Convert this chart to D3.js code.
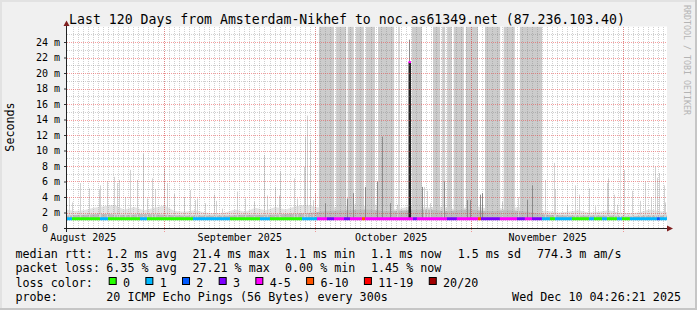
<!DOCTYPE html>
<html>
<head>
<meta charset="utf-8">
<script src="https://cdn.jsdelivr.net/npm/d3@7"></script>
<style>
  body { margin: 0; background: #f0f0f0; }
  svg text { font-family: "DejaVu Sans Mono", monospace; fill: #000; }
</style>
</head>
<body>
<div id="chart"></div>
<script>
// ---- data ----
const startTime = new Date(Date.UTC(2025, 7, 12, 4, 26, 21));
const endTime = new Date(Date.UTC(2025, 11, 10, 4, 26, 21));

const yTicks = [0, 2, 4, 6, 8, 10, 12, 14, 16, 18, 20, 22, 24];

const lossLabels = ["0", "1", "2", "3", "4-5", "6-10", "11-19", "20/20"];
const lossColors = ["#26ff00", "#00b8ff", "#0059ff", "#7e00ff", "#ff00ff", "#ff5500", "#ff0000", "#a10000"];

// median line: [from day, to day, loss bucket], days counted from startTime
const medianMs = 1.2;
const medianSegs = [
  [0.69, 1.68, 1], [1.68, 7.23, 0], [7.23, 8.81, 1], [8.81, 15.15, 0], [15.15, 16.54, 1],
  [16.54, 25.65, 0], [25.65, 32.98, 1], [32.98, 38.92, 0], [38.92, 40.9, 1], [40.9, 47.24, 0],
  [47.24, 50.21, 1], [50.21, 52.19, 4], [52.19, 53.58, 3], [53.58, 55.56, 4], [55.56, 56.75, 3],
  [56.75, 59.12, 4], [59.12, 59.72, 5], [59.72, 69.22, 4], [69.22, 70.01, 3], [70.01, 75.95, 4],
  [75.95, 77.93, 3], [77.93, 82.09, 4], [82.09, 82.69, 5], [82.69, 86.45, 3], [86.45, 89.82, 4],
  [89.82, 91.4, 3], [91.4, 92.79, 4], [92.79, 94.77, 3], [94.77, 96.36, 1], [96.36, 97.35, 0],
  [97.35, 100.71, 1], [100.71, 104.08, 0], [104.08, 105.07, 1], [105.07, 106.66, 0], [106.66, 107.65, 1],
  [107.65, 109.63, 0], [109.63, 110.62, 1], [110.62, 112.2, 0], [112.2, 117.55, 1], [117.55, 118.14, 2],
  [118.14, 119.53, 1]
];
// the one big median jump: [day, median ms, smoke top ms]
const medianPeak = [68.43, 21.4, 24.3];

// periods where the smoke fills the whole graph: [from day, to day]
const fullSmoke = [
  [50.6, 53.6], [54.0, 56.0], [56.3, 57.5], [57.9, 59.5], [59.9, 61.7], [62.3, 65.5],
  [66.3, 66.6], [69.0, 71.0], [73.2, 74.6], [75.0, 75.6], [76.0, 76.9], [77.3, 79.3],
  [79.7, 82.1], [83.5, 86.5], [87.2, 89.4], [90.4, 94.8]
];

// outer smoke every 2 days (ms)
const smokeOuter = [
  2.5, 2.2, 2.3, 2.6, 2.8, 3.0, 2.4, 2.7, 2.3, 2.6, 2.9, 2.2, 2.1, 2.3, 2.0, 1.9,
  2.0, 2.4, 2.1, 2.6, 2.3, 2.7, 2.4, 2.8, 3.0, 2.7, 2.5, 2.7, 2.9, 3.1, 2.8, 3.0,
  2.6, 2.4, 2.7, 2.9, 2.6, 2.8, 2.6, 2.4, 2.7, 2.8, 2.5, 2.6, 2.4, 2.7, 2.5, 2.3,
  2.2, 2.0, 2.1, 2.3, 2.0, 2.1, 2.3, 2.0, 1.9, 2.0, 2.4, 2.2, 2.0
];
// inner (denser) smoke every 4 days (ms)
const smokeInner = [
  1.6, 1.7, 1.8, 1.7, 1.8, 1.7, 1.6, 1.6, 1.6, 1.7, 1.7, 1.8, 1.9, 2.2, 2.3, 2.4,
  2.2, 2.3, 2.4, 2.2, 2.4, 2.2, 2.3, 2.1, 1.7, 1.6, 1.6, 1.6, 1.5, 1.6, 1.6
];

// single smoke spikes: [day, top ms]
const lightSpikes = [
  [1.03, 4.0], [1.68, 3.3], [3.27, 5.8], [4.99, 5.1], [6.97, 4.9], [7.29, 5.5], [8.61, 6.0],
  [9.94, 6.6], [10.53, 5.8], [11.0, 6.2], [12.18, 4.0], [13.23, 7.5], [14.55, 6.2], [15.74, 9.6],
  [16.53, 3.8], [17.52, 6.4], [18.18, 5.0], [19.96, 7.7], [20.5, 5.8], [21.82, 4.4], [23.8, 4.0],
  [25.11, 4.9], [26.04, 3.6], [26.44, 3.8], [28.02, 3.2], [29.74, 4.3], [30.2, 3.5], [31.39, 2.5],
  [34.36, 4.7], [36.0, 3.8], [37.66, 3.4], [39.64, 9.4], [40.3, 4.2], [41.94, 5.3], [42.61, 4.2],
  [42.93, 7.3], [45.58, 6.4], [46.24, 3.8], [47.68, 7.9], [47.92, 11.8], [48.22, 14.5], [48.75, 11.4],
  [49.41, 3.6], [49.8, 4.5],
  [65.98, 3.0], [71.39, 5.3], [71.98, 4.8], [72.57, 3.2], [75.21, 9.8], [82.48, 3.5], [86.84, 3.4],
  [90.0, 4.0],
  [95.37, 6.2], [97.15, 8.4], [97.41, 5.0], [99.72, 3.0], [101.37, 5.5], [102.04, 4.3], [104.02, 5.1],
  [105.27, 2.8], [107.64, 5.8], [107.9, 6.4], [108.97, 4.3], [109.62, 3.0], [110.22, 20.0], [110.95, 7.5],
  [112.6, 4.8], [114.18, 3.5], [115.23, 6.0], [116.36, 4.0], [117.15, 7.9], [117.49, 6.5], [117.88, 7.1],
  [118.87, 5.5], [119.13, 3.3]
];
const darkSpikes = [
  [51.8, 3.2], [56.09, 3.8], [57.4, 4.5], [59.71, 5.3], [62.15, 6.0], [63.02, 11.8], [64.67, 3.2],
  [70.94, 5.3], [75.36, 6.0], [79.92, 3.6], [80.51, 3.6], [82.55, 4.3], [82.83, 4.5], [91.74, 3.6],
  [92.79, 5.5]
];

const title = "Last 120 Days from Amsterdam-Nikhef to noc.as61349.net (87.236.103.40)";
const rttStats = ["1.2 ms avg", "21.4 ms max", "1.1 ms min", "1.1 ms now", "1.5 ms sd", "774.3 m am/s"];
const lossStats = ["6.35 % avg", "27.21 % max", "0.00 % min", "1.45 % now"];
const probeText = "20 ICMP Echo Pings (56 Bytes) every 300s";
const stampText = "Wed Dec 10 04:26:21 2025";

// ---- drawing ----
var width = 697;
var height = 310;
var plotLeft = 67, plotRight = 667, plotTop = 26.5, plotBottom = 228;
var smokeFloor = 1.05;

var x = d3.scaleUtc().domain([startTime, endTime]).range([63.5, 669.3]);
var y = d3.scaleLinear().domain([0, 26]).range([plotBottom, plotTop]);
var dayDate = (d) => new Date(startTime.getTime() + d * 864e5);
var xd = (d) => x(dayDate(d));

var svg = d3
  .select("#chart")
  .append("svg")
  .attr("width", width)
  .attr("height", height)
  .style("display", "block");

svg.append("rect").attr("width", width).attr("height", height).attr("fill", "#f0f0f0");
// frame
svg.append("path").attr("d", "M1,310 V1 H697").attr("fill", "none").attr("stroke", "#e2e2e2").attr("stroke-width", 2);
svg.append("path").attr("d", "M0,309 H696 V0").attr("fill", "none").attr("stroke", "#c6c6c6").attr("stroke-width", 2);

svg.append("defs").append("clipPath").attr("id", "plotclip")
  .append("rect").attr("x", plotLeft).attr("y", plotTop)
  .attr("width", plotRight - plotLeft).attr("height", plotBottom - plotTop);

svg.append("rect")
  .attr("x", plotLeft).attr("y", plotTop)
  .attr("width", plotRight - plotLeft).attr("height", plotBottom - plotTop)
  .attr("fill", "#fff");

var g = svg.append("g").attr("clip-path", "url(#plotclip)");

// outer smoke
var outerArea = d3.area()
  .x((d, i) => xd(i * 2))
  .y0(y(smokeFloor))
  .y1((d) => y(d));
g.append("path").datum(smokeOuter).attr("d", outerArea).attr("fill", "#e4e4e4");

// full height smoke
g.selectAll(".band")
  .data(fullSmoke)
  .join("rect")
  .attr("class", "band")
  .attr("x", (d) => xd(d[0]))
  .attr("width", (d) => xd(d[1]) - xd(d[0]))
  .attr("y", plotTop)
  .attr("height", y(smokeFloor) - plotTop)
  .attr("fill", "#cccccc");

// inner smoke
var innerArea = d3.area()
  .x((d, i) => xd(i * 4))
  .y0(y(smokeFloor))
  .y1((d) => y(d))
  .curve(d3.curveMonotoneX);
g.append("path").datum(smokeInner).attr("d", innerArea).attr("fill", "#bdbdbd");

// spikes
g.selectAll(".lspike")
  .data(lightSpikes)
  .join("line")
  .attr("x1", (d) => Math.round(xd(d[0])) + 0.5)
  .attr("x2", (d) => Math.round(xd(d[0])) + 0.5)
  .attr("y1", y(smokeFloor))
  .attr("y2", (d) => y(d[1]))
  .attr("stroke", (d) => (d[1] > 15 ? "#e2e2e2" : "#d2d2d2"))
  .attr("stroke-width", 1);

g.selectAll(".dspike")
  .data(darkSpikes)
  .join("line")
  .attr("x1", (d) => Math.round(xd(d[0])) + 0.5)
  .attr("x2", (d) => Math.round(xd(d[0])) + 0.5)
  .attr("y1", y(smokeFloor))
  .attr("y2", (d) => y(d[1]))
  .attr("stroke", "#8c8c8c")
  .attr("stroke-width", 1);

// the big one
var px = Math.round(xd(medianPeak[0]));
g.append("line")
  .attr("x1", px + 0.5).attr("x2", px + 0.5)
  .attr("y1", y(medianPeak[1])).attr("y2", y(medianPeak[2]))
  .attr("stroke", "#8a8a8a");
g.append("rect")
  .attr("x", px - 0.5).attr("width", 2.5)
  .attr("y", y(medianPeak[1])).attr("height", y(smokeFloor) - y(medianPeak[1]))
  .attr("fill", "#222");

// grid
var grid = svg.append("g").attr("shape-rendering", "crispEdges");
var minorDays = d3.utcDay.range(startTime, endTime).filter((d) => x(d) > plotLeft + 1 && x(d) < plotRight);
grid.selectAll(".vminor")
  .data(minorDays)
  .join("line")
  .attr("x1", (d) => Math.round(x(d)) + 0.5)
  .attr("x2", (d) => Math.round(x(d)) + 0.5)
  .attr("y1", plotTop).attr("y2", plotBottom)
  .attr("stroke", "rgba(120,120,120,0.35)")
  .attr("stroke-dasharray", "1,1");
grid.selectAll(".hminor")
  .data(d3.range(1, 26, 2))
  .join("line")
  .attr("x1", plotLeft).attr("x2", plotRight)
  .attr("y1", (d) => Math.round(y(d)) + 0.5)
  .attr("y2", (d) => Math.round(y(d)) + 0.5)
  .attr("stroke", "rgba(120,120,120,0.35)")
  .attr("stroke-dasharray", "1,1");
grid.selectAll(".hmajor")
  .data(yTicks.slice(1))
  .join("line")
  .attr("x1", plotLeft).attr("x2", plotRight)
  .attr("y1", (d) => Math.round(y(d)) + 0.5)
  .attr("y2", (d) => Math.round(y(d)) + 0.5)
  .attr("stroke", "rgba(235,60,60,0.5)")
  .attr("stroke-dasharray", "1,1");
grid.selectAll(".vmajor")
  .data(d3.utcMonth.range(startTime, endTime))
  .join("line")
  .attr("x1", (d) => Math.round(x(d)) + 0.5)
  .attr("x2", (d) => Math.round(x(d)) + 0.5)
  .attr("y1", plotTop).attr("y2", plotBottom + 4)
  .attr("stroke", "rgba(235,60,60,0.5)")
  .attr("stroke-dasharray", "1,1");

// median line coloured by loss
var med = svg.append("g").attr("clip-path", "url(#plotclip)");
med.selectAll(".seg")
  .data(medianSegs)
  .join("line")
  .attr("x1", (d) => xd(d[0]))
  .attr("x2", (d) => xd(d[1]))
  .attr("y1", y(medianMs))
  .attr("y2", y(medianMs))
  .attr("stroke", (d) => lossColors[d[2]])
  .attr("stroke-width", 3);
med.append("rect")
  .attr("x", px - 0.5).attr("width", 2.5)
  .attr("y", y(medianPeak[1]) - 1).attr("height", 2)
  .attr("fill", lossColors[4]);

// axes
var yaxis = d3.axisLeft(y)
  .tickValues(yTicks)
  .tickSize(3)
  .tickPadding(4)
  .tickFormat((v) => (v === 0 ? "0\u00a0\u00a0" : v + " m"));
var yg = svg.append("g").attr("transform", "translate(" + plotLeft + ",0)").call(yaxis);
yg.select(".domain").remove();
yg.selectAll("line").attr("stroke", "#333");
yg.selectAll("text").style("font-size", "10px").attr("fill", "#000");

var labelDates = d3.utcMonth
  .range(d3.utcMonth.floor(startTime), endTime)
  .map((m) => d3.utcDay.offset(m, 15))
  .filter((d) => d > startTime && d < endTime);
var xaxis = d3.axisBottom(x)
  .tickValues(labelDates)
  .tickSize(0)
  .tickPadding(5.9)
  .tickFormat(d3.utcFormat("%B %Y"));
var xg = svg.append("g").attr("transform", "translate(0," + plotBottom + ")").call(xaxis);
xg.select(".domain").remove();
xg.selectAll("text").style("font-size", "10px").attr("fill", "#000");

svg.append("line")
  .attr("x1", 64).attr("x2", 668)
  .attr("y1", plotBottom + 0.5).attr("y2", plotBottom + 0.5)
  .attr("stroke", "#222");
svg.append("line")
  .attr("x1", plotLeft - 0.5).attr("x2", plotLeft - 0.5)
  .attr("y1", plotBottom + 4).attr("y2", 25)
  .attr("stroke", "#222");
svg.append("path").attr("d", "M667,225.5 L673,228.5 L667,231.5 Z").attr("fill", "#7f1f1f");
svg.append("path").attr("d", "M63.5,26 L66.5,20.5 L69.5,26 Z").attr("fill", "#7f1f1f");

// titles
svg.append("text")
  .attr("x", 347).attr("y", 24)
  .style("text-anchor", "middle")
  .style("font-size", "13.2px")
  .text(title);

svg.append("text")
  .attr("transform", "translate(13.5,127) rotate(-90)")
  .style("text-anchor", "middle")
  .style("font-size", "11.7px")
  .text("Seconds");

svg.append("text")
  .attr("transform", "translate(684,5) rotate(90)")
  .style("font-size", "8.3px")
  .style("fill", "#b4b4b4")
  .text("RRDTOOL / TOBI OETIKER");

// legend
var legendFont = "11.7px";
var charW = 7.05;
var rowY = [258, 272.3, 286.6, 301];
var statCols = [106.3, 192.4, 285, 371, 457.7, 537];
var legend = svg.append("g").style("font-size", legendFont);

legend.append("text").attr("x", 15.5).attr("y", rowY[0]).text("median rtt:");
legend.selectAll(".rtt").data(rttStats).join("text")
  .attr("x", (d, i) => statCols[i]).attr("y", rowY[0]).text((d) => d);

legend.append("text").attr("x", 15.5).attr("y", rowY[1]).text("packet loss:");
legend.selectAll(".loss").data(lossStats).join("text")
  .attr("x", (d, i) => statCols[i]).attr("y", rowY[1]).text((d) => d);

legend.append("text").attr("x", 15.5).attr("y", rowY[2]).text("loss color:");
var boxX = [];
lossLabels.reduce((acc, lab) => {
  boxX.push(acc);
  return acc + (lab.length + 4.2) * charW;
}, 108.7);
var items = legend.selectAll(".lc").data(lossLabels).join("g");
items.append("rect")
  .attr("x", (d, i) => boxX[i] + 0.5)
  .attr("y", 277.5)
  .attr("width", 7)
  .attr("height", 7)
  .attr("fill", (d, i) => lossColors[i])
  .attr("stroke", "#000")
  .attr("stroke-width", 1);
items.append("text")
  .attr("x", (d, i) => boxX[i] + 14.3)
  .attr("y", rowY[2])
  .text((d) => d);

legend.append("text").attr("x", 15.5).attr("y", rowY[3]).text("probe:");
legend.append("text").attr("x", statCols[0]).attr("y", rowY[3]).text(probeText);
legend.append("text").attr("x", 681).attr("y", rowY[3]).style("text-anchor", "end").text(stampText);
</script>
</body>
</html>
